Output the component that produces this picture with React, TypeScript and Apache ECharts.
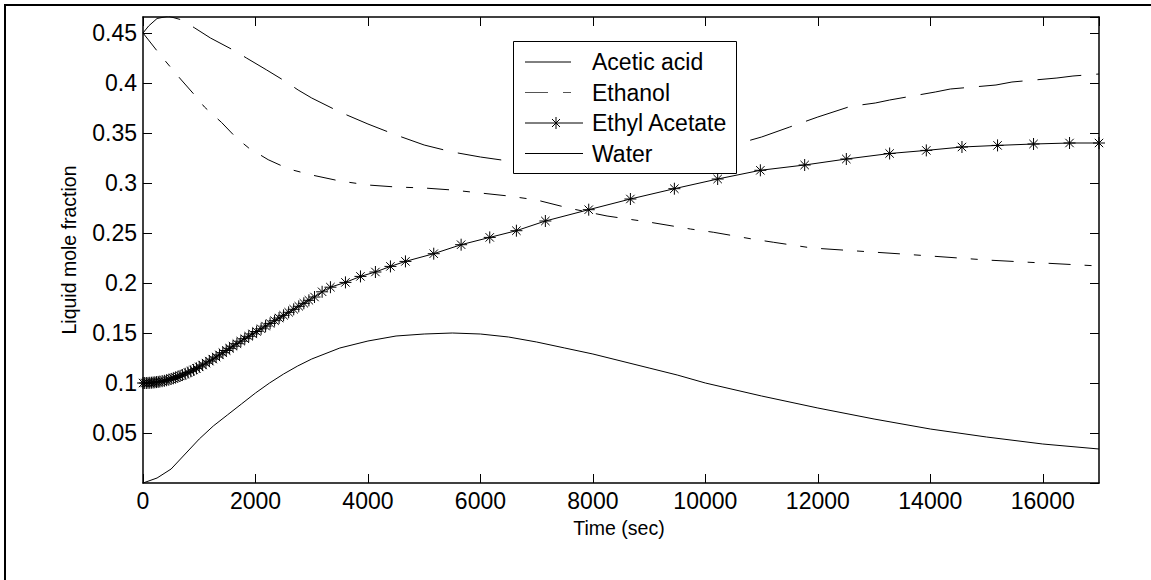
import React, { useEffect, useRef } from "react";
import * as echarts from "echarts";

// ---- Data (time in seconds, liquid mole fraction) ----
const tAcetic = [0, 100, 250, 450, 697, 921, 1200, 1603, 1840, 2200, 2521, 2759, 3000, 3500, 4000, 4500, 5000, 5500, 6000, 6500, 7000, 7500, 8000, 8500, 9000, 9500, 10000, 10500, 11000, 11500, 12000, 12578, 13022, 13277, 14089, 14356, 15168, 15452, 16252, 16537, 17000];
const acetic = [0.450, 0.457, 0.4645, 0.4668, 0.463, 0.455, 0.445, 0.433, 0.425, 0.413, 0.402, 0.393, 0.385, 0.371, 0.359, 0.348, 0.338, 0.331, 0.326, 0.322, 0.320, 0.319, 0.320, 0.322, 0.325, 0.329, 0.333, 0.338, 0.346, 0.356, 0.366, 0.3766, 0.380, 0.383, 0.391, 0.394, 0.398, 0.401, 0.405, 0.407, 0.409];

const tEthanol = [0, 252, 412, 667, 933, 1093, 1396, 1662, 1881, 2226, 2592, 3000, 3500, 4000, 4500, 5000, 5500, 6000, 6500, 7000, 7600, 8252, 9022, 9733, 10148, 10830, 11215, 11897, 12697, 13500, 14000, 15000, 16000, 17000];
const ethanol = [0.450, 0.432, 0.421, 0.404, 0.387, 0.376, 0.3606, 0.345, 0.335, 0.3233, 0.314, 0.308, 0.302, 0.298, 0.296, 0.295, 0.293, 0.290, 0.287, 0.283, 0.2745, 0.267, 0.2607, 0.254, 0.2507, 0.244, 0.2407, 0.235, 0.232, 0.229, 0.227, 0.223, 0.220, 0.217];

const tEthylAcetate = [0, 30, 60, 90, 120, 150, 180, 210, 240, 270, 300, 340, 380, 420, 460, 500, 540, 580, 620, 660, 700, 750, 800, 850, 900, 950, 1000, 1060, 1120, 1180, 1240, 1300, 1360, 1420, 1480, 1540, 1600, 1670, 1740, 1810, 1880, 1950, 2020, 2100, 2180, 2260, 2340, 2420, 2500, 2590, 2680, 2770, 2860, 2950, 3050, 3185, 3333, 3600, 3867, 4133, 4400, 4667, 5170, 5657, 6166, 6640, 7155, 7926, 8667, 9449, 10219, 10978, 11766, 12507, 13277, 13929, 14563, 15196, 15836, 16476, 17000];
const ethylAcetate = [0.1000, 0.1000, 0.1000, 0.1001, 0.1002, 0.1003, 0.1005, 0.1007, 0.1009, 0.1011, 0.1014, 0.1018, 0.1022, 0.1028, 0.1034, 0.1040, 0.1047, 0.1055, 0.1063, 0.1071, 0.1080, 0.1092, 0.1104, 0.1117, 0.1131, 0.1146, 0.1161, 0.1180, 0.1199, 0.1219, 0.1239, 0.1260, 0.1281, 0.1303, 0.1325, 0.1347, 0.1368, 0.1393, 0.1418, 0.1443, 0.1467, 0.1491, 0.1515, 0.1542, 0.1569, 0.1596, 0.1623, 0.1650, 0.1677, 0.1707, 0.1737, 0.1767, 0.1797, 0.1827, 0.1860, 0.1912, 0.1958, 0.2006, 0.2066, 0.2110, 0.2166, 0.2216, 0.2293, 0.2383, 0.2456, 0.2523, 0.2620, 0.2733, 0.2840, 0.2943, 0.3040, 0.3127, 0.3180, 0.3240, 0.3295, 0.3326, 0.3360, 0.3376, 0.3390, 0.3400, 0.3400];

const tWater = [0, 250, 500, 750, 1000, 1250, 1500, 1750, 2000, 2250, 2500, 2750, 3000, 3500, 4000, 4500, 5000, 5500, 6000, 6500, 7000, 7500, 8000, 8500, 9000, 9500, 10000, 11000, 12000, 13000, 14000, 15000, 16000, 17000];
const water = [0.000, 0.005, 0.014, 0.029, 0.044, 0.057, 0.068, 0.079, 0.090, 0.100, 0.109, 0.117, 0.124, 0.135, 0.142, 0.147, 0.149, 0.150, 0.149, 0.146, 0.141, 0.135, 0.129, 0.122, 0.115, 0.108, 0.100, 0.087, 0.075, 0.064, 0.054, 0.046, 0.039, 0.034];

const seriesNames = ["Acetic acid", "Ethanol", "Ethyl Acetate", "Water"];
const xTickStep = 2000;
const yTickStep = 0.05;

const pair = (t: number[], v: number[]) => t.map((x, i) => [x, v[i]]);

const FONT = "'Liberation Sans', Arial, Helvetica, sans-serif";
const STAR = "path://M5,0L5,10M0,5L10,5M1.5,1.5L8.5,8.5M1.5,8.5L8.5,1.5";

export default function App() {
  const ref = useRef<HTMLDivElement>(null);
  useEffect(() => {
    const chart = echarts.init(ref.current!, null, { renderer: "svg" });

    const axisCommon = {
      axisLine: { show: true, onZero: false, lineStyle: { color: "#000", width: 1.5 } },
      axisTick: { show: true, inside: true, length: 9, lineStyle: { color: "#000", width: 1 } },
      splitLine: { show: false },
    };

    const legX1 = 525;
    const legTextX = 592;
    const rows = [62, 92.5, 123, 153.5];
    const legend: any[] = [
      { type: "rect", z: 100, shape: { x: 513.5, y: 41.5, width: 223, height: 132 }, style: { fill: "#fff", stroke: "#000", lineWidth: 1 } },
      { type: "line", z: 101, shape: { x1: legX1, y1: rows[0], x2: 571, y2: rows[0] }, style: { stroke: "#000", lineWidth: 1 } },
      { type: "line", z: 101, shape: { x1: legX1, y1: rows[1], x2: 548, y2: rows[1] }, style: { stroke: "#555", lineWidth: 1 } },
      { type: "line", z: 101, shape: { x1: 563, y1: rows[1], x2: 571, y2: rows[1] }, style: { stroke: "#555", lineWidth: 1 } },
      { type: "line", z: 101, shape: { x1: legX1, y1: rows[2], x2: 583, y2: rows[2] }, style: { stroke: "#000", lineWidth: 1 } },
      { type: "line", z: 101, shape: { x1: 556, y1: rows[2] - 6, x2: 556, y2: rows[2] + 6 }, style: { stroke: "#000", lineWidth: 1 } },
      { type: "line", z: 101, shape: { x1: 552, y1: rows[2] - 4, x2: 560, y2: rows[2] + 4 }, style: { stroke: "#000", lineWidth: 1 } },
      { type: "line", z: 101, shape: { x1: 552, y1: rows[2] + 4, x2: 560, y2: rows[2] - 4 }, style: { stroke: "#000", lineWidth: 1 } },
      { type: "line", z: 101, shape: { x1: legX1, y1: rows[3], x2: 583, y2: rows[3] }, style: { stroke: "#000", lineWidth: 1 } },
    ];
    seriesNames.forEach((n, i) => {
      legend.push({
        type: "text", z: 101, x: legTextX, y: rows[i],
        style: { text: n, fontSize: 23, fontFamily: FONT, fill: "#000", align: "left", verticalAlign: "middle", textAlign: "left", textVerticalAlign: "middle" },
      });
    });

    const option: any = {
      animation: false,
      backgroundColor: "#fff",
      grid: { left: 143, right: 52, top: 17, bottom: 97, containLabel: false },
      xAxis: [
        {
          type: "value", position: "bottom", min: 0, max: 17000, interval: xTickStep,
          ...axisCommon,
          axisLabel: { show: true, fontSize: 23, fontFamily: FONT, color: "#000", margin: 6, showMaxLabel: false,
            formatter: (v: number) => (v % xTickStep === 0 ? String(v) : "") },
        },
        {
          type: "value", position: "top", min: 0, max: 17000, interval: xTickStep,
          ...axisCommon, axisLabel: { show: false },
        },
      ],
      yAxis: [
        {
          type: "value", position: "left", min: 0, max: 0.466, interval: yTickStep,
          ...axisCommon,
          axisLabel: { show: true, fontSize: 23, fontFamily: FONT, color: "#000", margin: 6, showMinLabel: false, showMaxLabel: false,
            formatter: (v: number) => String(Math.round(v * 100) / 100) },
        },
        {
          type: "value", position: "right", min: 0, max: 0.466, interval: yTickStep,
          ...axisCommon, axisLabel: { show: false },
        },
      ],
      series: [
        { name: seriesNames[0], type: "line", data: pair(tAcetic, acetic), showSymbol: false, symbol: "none",
          lineStyle: { color: "#000", width: 1, type: [44, 15] } },
        { name: seriesNames[1], type: "line", data: pair(tEthanol, ethanol), showSymbol: false, symbol: "none",
          lineStyle: { color: "#000", width: 1, type: [22, 14, 7, 14] } },
        { name: seriesNames[2], type: "line", data: pair(tEthylAcetate, ethylAcetate), showSymbol: true, symbol: STAR, symbolSize: 12,
          itemStyle: { color: "none", borderColor: "#000", borderWidth: 1 },
          lineStyle: { color: "#000", width: 1 } },
        { name: seriesNames[3], type: "line", data: pair(tWater, water), showSymbol: false, symbol: "none",
          lineStyle: { color: "#000", width: 1 } },
      ],
      graphic: [
        { type: "rect", z: 0, shape: { x: 5, y: 5, width: 1400, height: 900 }, style: { fill: "none", stroke: "#000", lineWidth: 2 } },
        { type: "text", z: 50, x: 619, y: 528,
          style: { text: "Time (sec)", fontSize: 19.5, fontFamily: FONT, fill: "#000", align: "center", verticalAlign: "middle", textAlign: "center", textVerticalAlign: "middle" } },
        { type: "text", z: 50, x: 69, y: 250, rotation: Math.PI / 2,
          style: { text: "Liquid mole fraction", fontSize: 19.5, fontFamily: FONT, fill: "#000", align: "center", verticalAlign: "middle", textAlign: "center", textVerticalAlign: "middle" } },
        ...legend,
      ],
    };
    chart.setOption(option);
    return () => chart.dispose();
  }, []);
  return <div ref={ref} style={{ position: "absolute", left: 0, top: 0, width: 1151, height: 580, background: "#fff" }} />;
}
